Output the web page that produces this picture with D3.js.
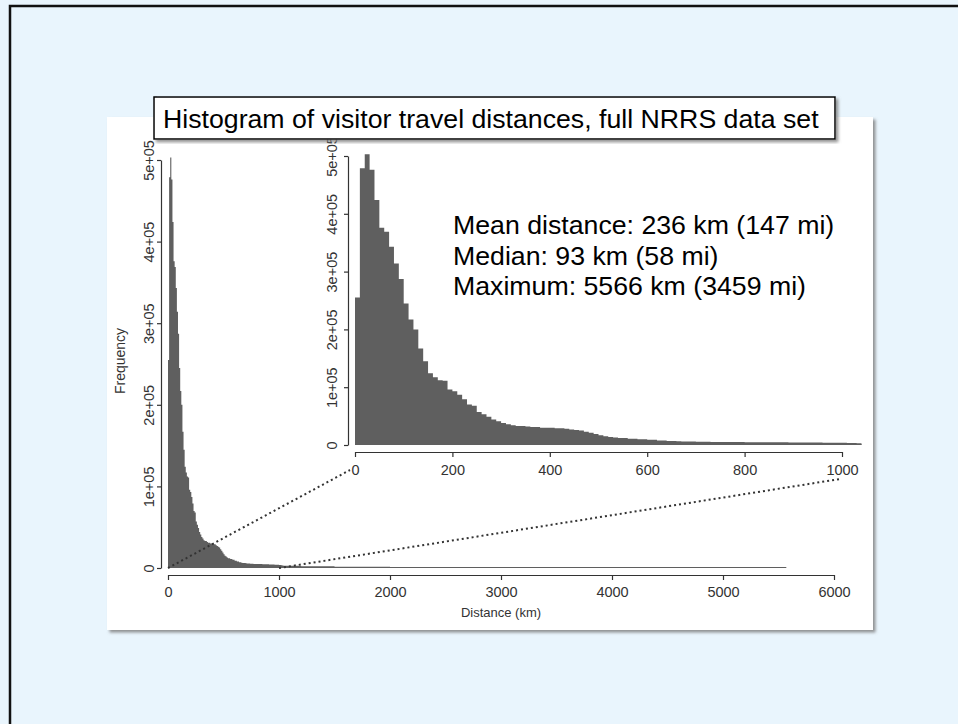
<!DOCTYPE html>
<html>
<head>
<meta charset="utf-8">
<script src="https://cdn.jsdelivr.net/npm/d3@7"></script>
<style>
  html, body { margin: 0; padding: 0; background: #e9f5fd; }
  svg { display: block; font-family: "Liberation Sans", Arial, sans-serif; }
</style>
</head>
<body>
<svg id="chart" width="958" height="724"></svg>
<script>
const titleText = 'Histogram of visitor travel distances, full NRRS data set';
const statLines = ['Mean distance: 236 km (147 mi)', 'Median: 93 km (58 mi)', 'Maximum: 5566 km (3459 mi)'];

// visitor counts per 10 km bin, 0 - 1040 km
const binWidth = 10;
const binCounts = [
    255000, 479000, 503000, 476000, 424000, 376000, 369000, 343000, 314000, 287000,
    245000, 217000, 200000, 167000, 145000, 124000, 117000, 112000, 111000, 96000,
    93000, 87000, 79000, 70000, 68000, 57000, 53000, 49000, 44000, 41000,
    38000, 36000, 34000, 33000, 33000, 32000, 31000, 31000, 30000, 30000,
    30000, 29000, 29000, 28000, 27000, 26000, 25000, 23000, 21000, 19000,
    17000, 15000, 14000, 13000, 12000, 12000, 11000, 11000, 10000, 10000,
    9000, 9000, 8000, 8000, 7000, 7000, 6500, 6200, 6000, 6000,
    5800, 5600, 5500, 5400, 5300, 5200, 5100, 5000, 5000, 5000,
    4900, 4900, 4800, 4800, 4800, 4700, 4700, 4600, 4600, 4500,
    4500, 4400, 4400, 4300, 4200, 4200, 4100, 4000, 4000, 3900,
    3800, 3600, 3400, 3000
];
// long tail, average count per 10 km bin inside each span
const tailEdges = [1040, 1200, 1500, 2000, 2500, 3000, 3500, 4100, 5570];
const tailCounts = [2800, 2200, 1600, 1200, 1000, 800, 600, 300];

const mainXTicks = [0, 1000, 2000, 3000, 4000, 5000, 6000];
const freqTicks = [0, 100000, 200000, 300000, 400000, 500000];
const freqLabels = ['0', '1e+05', '2e+05', '3e+05', '4e+05', '5e+05'];
const insetXTicks = [0, 200, 400, 600, 800, 1000];

const W = 958, H = 724;
const barColor = '#5f5f5f';
const inkColor = '#333';

const bins = binCounts.map((c, i) => ({x0: i * binWidth, x1: (i + 1) * binWidth, count: c}));
const tail = tailCounts.map((c, i) => ({x0: tailEdges[i], x1: tailEdges[i + 1], count: c}));

const svg = d3.select('#chart');

const defs = svg.append('defs');
const shadow = defs.append('filter').attr('id', 'shadow')
    .attr('x', '-5%').attr('y', '-5%').attr('width', '112%').attr('height', '115%');
shadow.append('feDropShadow')
    .attr('dx', 2.5).attr('dy', 2.5).attr('stdDeviation', 1.5)
    .attr('flood-color', '#777').attr('flood-opacity', 0.8);

// slide background and frame
svg.append('rect').attr('width', W).attr('height', H).attr('fill', '#e9f5fd');
svg.append('rect').attr('x', 10).attr('y', 6).attr('width', W + 40).attr('height', H + 40)
    .attr('fill', 'none').attr('stroke', '#111').attr('stroke-width', 2.5);

// white picture panel
svg.append('rect').attr('x', 107).attr('y', 117).attr('width', 766).attr('height', 513)
    .attr('fill', '#fff').attr('filter', 'url(#shadow)');

const xMain = d3.scaleLinear().domain([0, 6000]).range([168, 834]);
const yMain = d3.scaleLinear().domain([0, 500000]).range([568, 160]);
const xIn = d3.scaleLinear().domain([0, 1000]).range([355, 842]);
const yIn = d3.scaleLinear().domain([0, 500000]).range([445, 156]);

// histogram drawn as one stepped area so neighbouring bins do not leave seams
function drawHist(g, data, x, y) {
    const last = data[data.length - 1];
    const pts = data.map(d => [d.x0, d.count]).concat([[last.x1, last.count]]);
    const area = d3.area()
        .x(p => x(p[0]))
        .y0(y(0))
        .y1(p => y(p[1]))
        .curve(d3.curveStepAfter);
    g.append('path').datum(pts).attr('d', area).attr('fill', barColor);
    // bar outlines along the base keep the near-empty tail visible
    g.append('line')
        .attr('x1', x(data[0].x0)).attr('x2', x(last.x1))
        .attr('y1', y(0) - 0.5).attr('y2', y(0) - 0.5)
        .attr('stroke', barColor).attr('stroke-width', 1);
}

function styleAxis(g, size) {
    g.select('.domain').attr('stroke', inkColor).attr('stroke-width', 1.2);
    g.selectAll('.tick line').attr('stroke', inkColor).attr('stroke-width', 1.2);
    g.selectAll('.tick text').attr('fill', inkColor).attr('font-size', size)
        .attr('font-family', '"Liberation Sans", Arial, sans-serif');
}

function rotateLabels(g, offset) {
    g.selectAll('.tick text')
        .attr('transform', 'rotate(-90)')
        .attr('x', 0)
        .attr('y', -offset)
        .attr('dy', null)
        .attr('text-anchor', 'middle');
}

// main histogram
drawHist(svg.append('g'), bins.concat(tail), xMain, yMain);

const mainX = svg.append('g').attr('transform', 'translate(0,575)')
    .call(d3.axisBottom(xMain).tickValues(mainXTicks).tickFormat(d3.format('d'))
        .tickSize(5).tickSizeOuter(0).tickPadding(7));
styleAxis(mainX, 14.5);

const mainY = svg.append('g').attr('transform', 'translate(161,0)')
    .call(d3.axisLeft(yMain).tickValues(freqTicks).tickFormat((d, i) => freqLabels[i])
        .tickSize(4).tickSizeOuter(0));
styleAxis(mainY, 14.5);
rotateLabels(mainY, 7.5);

svg.append('text')
    .attr('transform', 'translate(125,361) rotate(-90)')
    .attr('text-anchor', 'middle').attr('font-size', 14).attr('fill', inkColor)
    .text('Frequency');
svg.append('text')
    .attr('x', 501).attr('y', 617)
    .attr('text-anchor', 'middle').attr('font-size', 13).attr('fill', inkColor)
    .text('Distance (km)');

// inset, first 1000 km
drawHist(svg.append('g'), bins, xIn, yIn);

const inX = svg.append('g').attr('transform', 'translate(0,452)')
    .call(d3.axisBottom(xIn).tickValues(insetXTicks).tickFormat(d3.format('d'))
        .tickSize(5).tickSizeOuter(0).tickPadding(8));
styleAxis(inX, 14.5);

const inY = svg.append('g').attr('transform', 'translate(348,0)')
    .call(d3.axisLeft(yIn).tickValues(freqTicks).tickFormat((d, i) => freqLabels[i])
        .tickSize(4).tickSizeOuter(0));
styleAxis(inY, 14.5);
rotateLabels(inY, 11);

// zoom guide lines from the main axis to the inset axis
const guides = [
    [[xMain(0), yMain(0)], [xIn(0) - 5, yIn(0) + 25]],
    [[xMain(1000), yMain(0)], [xIn(1000) - 2, yIn(0) + 34]]
];
svg.append('g').selectAll('line')
    .data(guides)
    .enter().append('line')
    .attr('x1', d => d[0][0]).attr('y1', d => d[0][1])
    .attr('x2', d => d[1][0]).attr('y2', d => d[1][1])
    .attr('stroke', inkColor).attr('stroke-width', 2)
    .attr('stroke-dasharray', '2,3');

// summary statistics
svg.append('g').selectAll('text')
    .data(statLines)
    .enter().append('text')
    .attr('x', 453)
    .attr('y', (d, i) => 234 + i * 30.5)
    .attr('font-size', 26.7).attr('fill', '#000')
    .text(d => d);

// title box
const titleG = svg.append('g');
titleG.append('rect').attr('x', 154).attr('y', 97).attr('width', 681).attr('height', 42)
    .attr('fill', '#fff').attr('stroke', '#000').attr('stroke-width', 1.5)
    .attr('filter', 'url(#shadow)');
titleG.append('text').attr('x', 163).attr('y', 127.5)
    .attr('font-size', 26.7).attr('fill', '#000')
    .text(titleText);
</script>
</body>
</html>
